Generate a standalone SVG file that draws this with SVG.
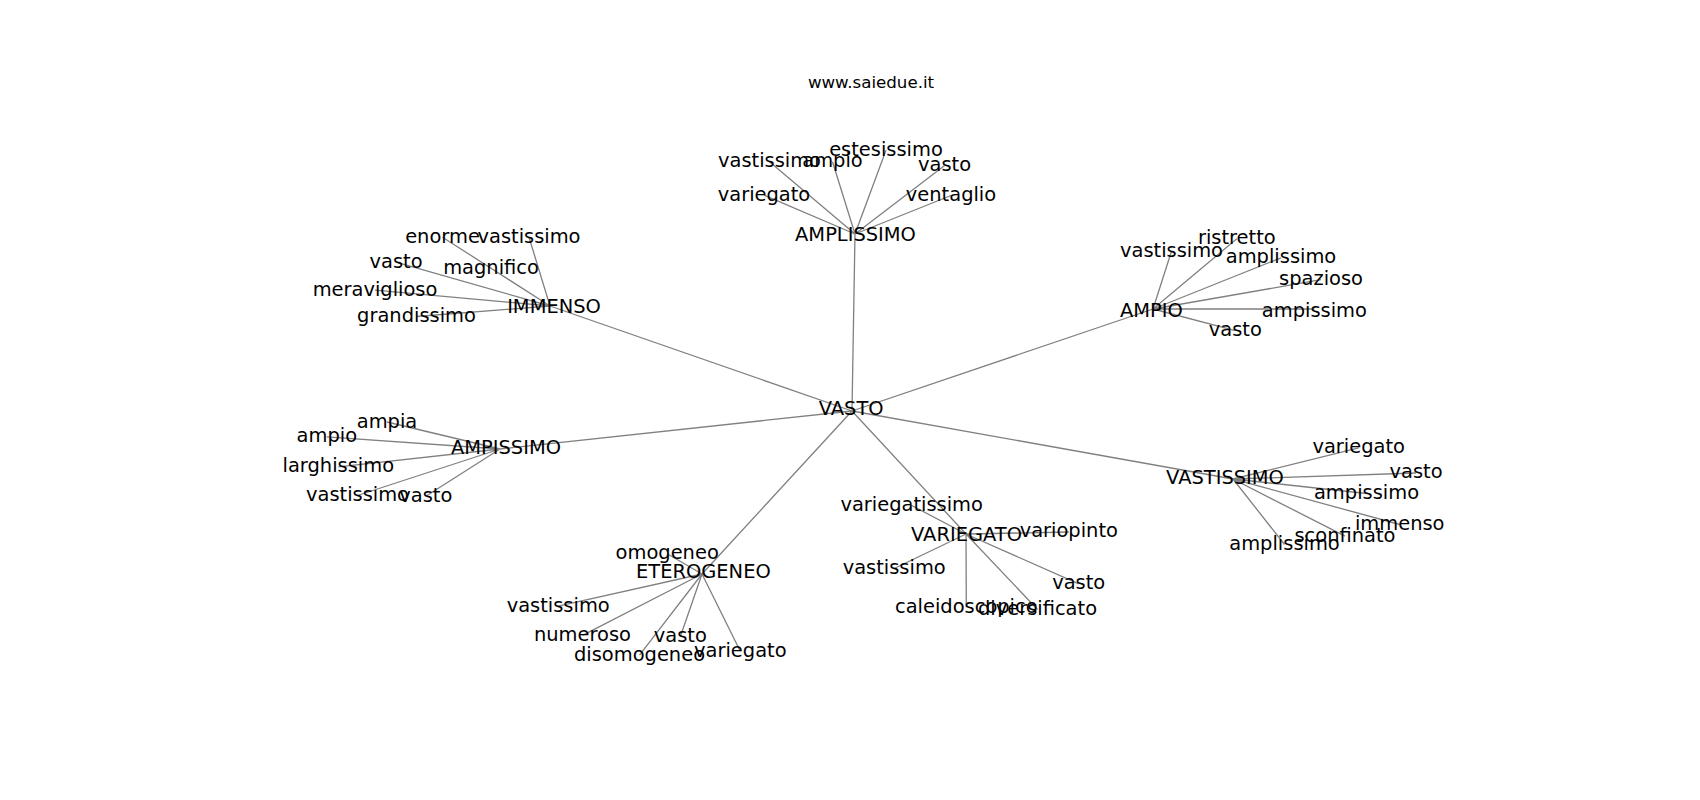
<svg xmlns="http://www.w3.org/2000/svg" width="1700" height="800" viewBox="0 0 1700 800">
<style>
.e{stroke:#808080;stroke-width:1.3;fill:none}
text{font-family:"DejaVu Sans",sans-serif;font-size:19.44px;fill:#000;text-anchor:middle}
.t{font-size:16.67px}
</style>
<rect width="1700" height="800" fill="#fff"/>
<text class="t" x="871" y="87.7">www.saiedue.it</text>
<g id="edges">
<path class="e" d="M852 411L855 234M852 411L550 306M852 411L1153 309M852 411L500 449M852 411L1233 479M852 411L966 534M852 411L702 574"/>
<path class="e" d="M855 234L769.5 161.8M855 234L832.5 161.8M855 234L886 150.2M855 234L944.6 165.5M855 234L764 195.2M855 234L951 195.5"/>
<path class="e" d="M550 306L442.5 237.2M550 306L529 237.2M550 306L396 262.2M550 306L491 268.2M550 306L375 290.2M550 306L416.5 316.5"/>
<path class="e" d="M1153 309L1171.5 251.2M1153 309L1236.8 238.8M1153 309L1281 257.8M1153 309L1321 279.7M1153 309L1314.4 309M1153 309L1235.3 330.7"/>
<path class="e" d="M500 449L387 422M500 449L326.8 436.8M500 449L338.3 466.8M500 449L357.5 495.5M500 449L425.8 496.2"/>
<path class="e" d="M1233 479L1358.7 447.8M1233 479L1416 473M1233 479L1366.5 493.5M1233 479L1399.7 524.5M1233 479L1345 536.2M1233 479L1284.5 544.5"/>
<path class="e" d="M966 534L911.7 505.5M966 534L1068.8 532M966 534L894.2 568.5M966 534L966.3 607.2M966 534L1037.5 609.5M966 534L1078.7 583.8"/>
<path class="e" d="M702 574L667.2 553.8M702 574L558.2 606.2M702 574L582.5 635.3M702 574L680.3 636.8M702 574L639.5 655.2M702 574L740.3 651.2"/>
</g>
<g id="VASTO"><text x="851.2" y="415">VASTO</text></g>
<g id="AMPLISSIMO"><text x="855.5" y="241">AMPLISSIMO</text></g>
<g id="IMMENSO"><text x="554" y="312.5">IMMENSO</text></g>
<g id="AMPIO"><text x="1151.4" y="317">AMPIO</text></g>
<g id="AMPISSIMO"><text x="506" y="454">AMPISSIMO</text></g>
<g id="VASTISSIMO"><text x="1225" y="483.7">VASTISSIMO</text></g>
<g id="VARIEGATO"><text x="966.5" y="540.7">VARIEGATO</text></g>
<g id="ETEROGENEO"><text x="703.4" y="578.3">ETEROGENEO</text></g>
<g id="amplissimo-leaves">
<text x="769.5" y="167.3">vastissimo</text>
<text x="832.5" y="167.3">ampio</text>
<text x="886" y="155.7">estesissimo</text>
<text x="944.6" y="171">vasto</text>
<text x="764" y="200.7">variegato</text>
<text x="951" y="201">ventaglio</text>
</g>
<g id="immenso-leaves">
<text x="442.5" y="242.7">enorme</text>
<text x="529" y="242.7">vastissimo</text>
<text x="396" y="267.7">vasto</text>
<text x="491" y="273.7">magnifico</text>
<text x="375" y="295.7">meraviglioso</text>
<text x="416.5" y="322">grandissimo</text>
</g>
<g id="ampio-leaves">
<text x="1171.5" y="256.7">vastissimo</text>
<text x="1236.8" y="244.3">ristretto</text>
<text x="1281" y="263.3">amplissimo</text>
<text x="1321" y="285.2">spazioso</text>
<text x="1314.4" y="316.5">ampissimo</text>
<text x="1235.3" y="336.2">vasto</text>
</g>
<g id="ampissimo-leaves">
<text x="387" y="427.5">ampia</text>
<text x="326.8" y="442.3">ampio</text>
<text x="338.3" y="472.3">larghissimo</text>
<text x="357.5" y="501">vastissimo</text>
<text x="425.8" y="501.7">vasto</text>
</g>
<g id="vastissimo-leaves">
<text x="1358.7" y="453.3">variegato</text>
<text x="1416" y="477.7">vasto</text>
<text x="1366.5" y="499">ampissimo</text>
<text x="1399.7" y="530">immenso</text>
<text x="1345" y="541.7">sconfinato</text>
<text x="1284.5" y="550">amplissimo</text>
</g>
<g id="variegato-leaves">
<text x="911.7" y="511">variegatissimo</text>
<text x="1068.8" y="537">variopinto</text>
<text x="894.2" y="574">vastissimo</text>
<text x="966.3" y="612.7">caleidoscopico</text>
<text x="1037.5" y="615">diversificato</text>
<text x="1078.7" y="589.3">vasto</text>
</g>
<g id="eterogeneo-leaves">
<text x="667.2" y="559.3">omogeneo</text>
<text x="558.2" y="611.7">vastissimo</text>
<text x="582.5" y="640.8">numeroso</text>
<text x="680.3" y="642.3">vasto</text>
<text x="639.5" y="660.7">disomogeneo</text>
<text x="740.3" y="656.7">variegato</text>
</g>
</svg>
